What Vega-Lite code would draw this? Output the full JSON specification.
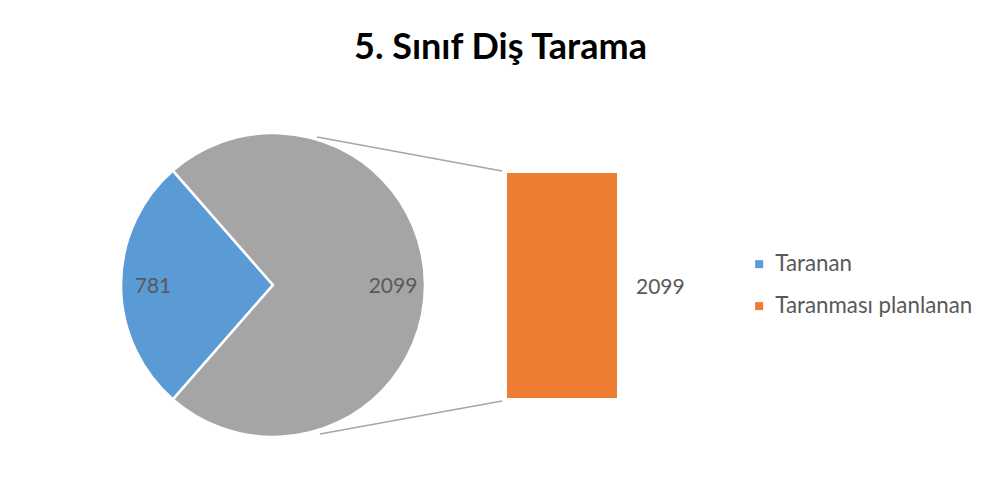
{
  "$schema": "https://vega.github.io/schema/vega-lite/v6.json",
  "background": "white",
  "padding": {"left": 116, "top": 30, "right": 0, "bottom": 0},
  "bounds": "flush",
  "spacing": 82,
  "title": {"text": "5. Sınıf Diş Tarama", "font": "Lato", "fontSize": 36, "fontWeight": "bold", "color": "#000000", "anchor": "middle", "dx": -44, "offset": 61},
  "config": {"view": {"stroke": null}, "font": "Lato"},
  "datasets": {
    "pie": [
      {"Dilim": "Taranan", "Deger": 781},
      {"Dilim": "Diğer", "Deger": 2099}
    ],
    "bar": [
      {"Dilim": "Taranması planlanan", "Deger": 2099}
    ],
    "connectors": [
      {"x": -1.727, "y": 2435, "x2": -0.045, "y2": 2117},
      {"x": -1.70, "y": -336, "x2": -0.045, "y2": -28}
    ]
  },
  "hconcat": [
    {
      "width": 304,
      "height": 304,
      "data": {"name": "pie"},
      "layer": [
        {
          "mark": {"type": "arc", "stroke": "white", "strokeWidth": 2.5},
          "encoding": {
            "theta": {"field": "Deger", "type": "quantitative", "stack": true, "scale": {"range": [-0.719, 5.564]}},
            "order": {"field": "Deger", "type": "quantitative", "sort": "descending"},
            "color": {
              "field": "Dilim", "type": "nominal",
              "scale": {"domain": ["Taranan", "Taranması planlanan", "Diğer"], "range": ["#5B9BD5", "#ED7D31", "#A5A5A5"]},
              "legend": {"orient": "none", "legendX": 627, "legendY": 120, "title": null, "values": ["Taranan", "Taranması planlanan"], "symbolType": "square", "symbolSize": 64, "symbolStrokeWidth": 0, "labelFontSize": 22.3, "labelFont": "Lato", "labelColor": "#595959", "labelLimit": 400, "rowPadding": 19, "labelOffset": 5, "padding": 0}
            }
          }
        },
        {
          "mark": {"type": "text", "radius": 120, "fontSize": 21, "font": "Lato", "color": "#595959", "dy": 2},
          "encoding": {
            "theta": {"field": "Deger", "type": "quantitative", "stack": true, "scale": {"range": [-0.719, 5.564]}},
            "order": {"field": "Deger", "type": "quantitative", "sort": "descending"},
            "detail": {"field": "Dilim", "type": "nominal"},
            "text": {"field": "Deger", "type": "quantitative", "format": "d"}
          }
        }
      ]
    },
    {
      "width": 110,
      "height": 304,
      "layer": [
        {
          "data": {"name": "connectors"},
          "mark": {"type": "rule", "color": "#A6A6A6", "strokeWidth": 1.5},
          "encoding": {
            "x": {"field": "x", "type": "quantitative", "scale": {"domain": [0, 1], "nice": false, "zero": false}, "axis": null},
            "x2": {"field": "x2"},
            "y": {"field": "y", "type": "quantitative", "scale": {"domain": [-364, 2472], "nice": false, "zero": false}, "axis": null},
            "y2": {"field": "y2"}
          }
        },
        {
          "data": {"name": "bar"},
          "mark": {"type": "bar"},
          "encoding": {
            "x": {"datum": 0, "type": "quantitative"},
            "x2": {"datum": 1},
            "y": {"field": "Deger", "type": "quantitative"},
            "y2": {"datum": 0},
            "color": {
              "field": "Dilim", "type": "nominal",
              "scale": {"domain": ["Taranan", "Taranması planlanan", "Diğer"], "range": ["#5B9BD5", "#ED7D31", "#A5A5A5"]}
            }
          }
        },
        {
          "data": {"name": "bar"},
          "mark": {"type": "text", "align": "left", "baseline": "middle", "dx": 19, "dy": 115, "fontSize": 21, "font": "Lato", "color": "#595959"},
          "encoding": {
            "x": {"datum": 1, "type": "quantitative"},
            "y": {"field": "Deger", "type": "quantitative"},
            "text": {"field": "Deger", "type": "quantitative", "format": "d"}
          }
        }
      ]
    }
  ]
}
